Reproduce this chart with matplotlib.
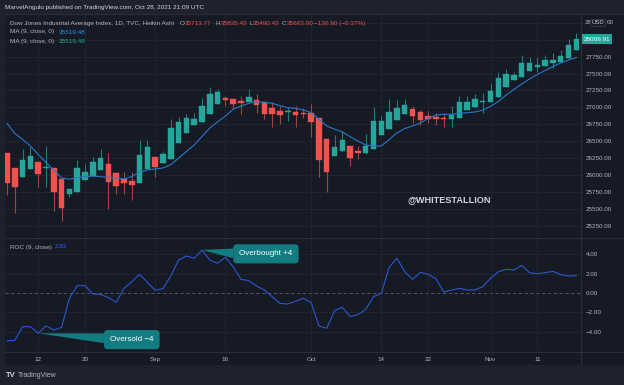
import matplotlib
matplotlib.use('agg')
import matplotlib.pyplot as plt
from matplotlib.patches import Rectangle
import matplotlib.transforms as mtransforms
import pandas as pd

plt.rcParams['font.family'] = ['Liberation Sans', 'DejaVu Sans']

# trading days Aug 6 - Nov 18 2019 (Labor Day closed)
dates = pd.bdate_range('2019-08-06', '2019-11-18').drop(pd.Timestamp('2019-09-02'))

tick_dates = ['2019-08-12', '2019-08-20', '2019-09-03', '2019-09-16', '2019-10-01',
              '2019-10-14', '2019-10-22', '2019-11-01', '2019-11-11']
tick_labels = ['12', '20', 'Sep', '16', 'Oct', '14', '22', 'Nov', '11']

# heikin ashi candles
ha_open = [26320, 26107, 25965, 26092, 26187, 26103, 26107, 25935, 25713, 25747,
           25925, 25984, 26077, 26166, 26033, 25940, 25910, 25876, 26083, 26261,
           26181, 26240, 26468, 26625, 26739, 26783, 26902, 27045, 27139, 27124,
           27094, 27079, 27109, 27075, 26995, 26946, 26927, 26931, 26921, 26912,
           26838, 26536, 26285, 26359, 26433, 26350, 26329, 26379, 26587, 26684,
           26813, 26897, 26971, 26927, 26868, 26857, 26843, 26828, 26847, 26961,
           27010, 27075, 27084, 27158, 27306, 27401, 27445, 27538, 27602, 27617,
           27652, 27667, 27726, 27849]
ha_high = [26320, 26107, 26384, 26409, 26187, 26428, 26107, 25935, 25792, 26221,
           26162, 26265, 26384, 26320, 26033, 26048, 26039, 26517, 26513, 26261,
           26359, 26832, 26862, 26902, 26912, 27143, 27306, 27276, 27168, 27124,
           27168, 27272, 27198, 27075, 27084, 27020, 27010, 27020, 26995, 27054,
           26838, 26536, 26587, 26655, 26433, 26428, 26601, 27010, 26872, 27124,
           27109, 27119, 27020, 26961, 26951, 26912, 26921, 27020, 27168, 27168,
           27198, 27217, 27356, 27528, 27563, 27528, 27775, 27741, 27750, 27775,
           27809, 27849, 28007, 28096]
ha_low = [25703, 25432, 25965, 26092, 25817, 25826, 25471, 25323, 25669, 25747,
          25925, 25984, 26077, 25496, 25713, 25713, 25629, 25876, 26083, 25974,
          26181, 26240, 26468, 26625, 26739, 26783, 26902, 27045, 27025, 26976,
          26897, 27079, 26912, 26828, 26705, 26749, 26798, 26714, 26847, 26557,
          25965, 25743, 26285, 26359, 26132, 26240, 26305, 26379, 26587, 26684,
          26813, 26897, 26764, 26739, 26764, 26739, 26714, 26714, 26847, 26961,
          26986, 26921, 27084, 27158, 27306, 27401, 27445, 27538, 27519, 27617,
          27587, 27667, 27726, 27849]
ha_close = [25885, 25826, 26221, 26280, 26014, 26117, 25747, 25506, 25792, 26098,
            26039, 26187, 26251, 25895, 25836, 25885, 25851, 26295, 26418, 26117,
            26310, 26690, 26783, 26843, 26832, 27020, 27198, 27223, 27105, 27050,
            27060, 27153, 27039, 26902, 26902, 26891, 26931, 26883, 26906, 26779,
            26221, 26039, 26418, 26513, 26246, 26329, 26428, 26798, 26794, 26936,
            26995, 27035, 26877, 26813, 26832, 26823, 26828, 26887, 27084, 27084,
            27124, 27090, 27242, 27439, 27494, 27483, 27661, 27652, 27627, 27701,
            27701, 27760, 27923, 28009.91]

ma9 = [26764, 26613, 26525, 26428, 26303, 26184, 26073, 25955, 25936, 25959,
       25974, 25984, 25974, 25965, 25955, 25940, 25977, 26041, 26073, 26088,
       26103, 26152, 26248, 26347, 26443, 26569, 26695, 26784, 26872, 26972,
       27020, 27059, 27084, 27075, 27060, 27025, 26995, 26986, 26961, 26921,
       26824, 26724, 26676, 26636, 26566, 26502, 26443, 26428, 26428, 26525,
       26621, 26687, 26724, 26769, 26835, 26887, 26898, 26898, 26911, 26921,
       26932, 26958, 27016, 27087, 27183, 27265, 27346, 27420, 27487, 27546,
       27605, 27657, 27701, 27738]

roc = [-4.96, -4.9, -3.48, -3.48, -4.17, -3.41, -3.83, -3.55, -0.55, 0.76,
       0.76, -0.1, -0.14, -0.48, -0.97, 0.48, 1.17, 1.93, 1.1, 0.28,
       0.45, 1.76, 3.41, 3.83, 3.59, 4.45, 3.41, 3.07, 3.69, 2.72,
       1.41, 1.28, 0.72, 0.31, -0.38, -1.07, -1.14, -0.86, -0.55, -1.0,
       -3.41, -3.65, -1.83, -1.48, -2.45, -2.24, -1.69, -0.38, -0.03, 2.66,
       3.59, 2.2, 1.41, 2.14, 1.93, 1.48, 0.1, 0.31, 0.48, 0.31,
       0.31, 0.66, 1.52, 2.2, 2.45, 2.38, 2.86, 2.1, 2.0, 2.1,
       2.24, 1.9, 1.76, 1.8]

price_ticks = [25250, 25500, 25750, 26000, 26250, 26500, 26750, 27000,
               27250, 27500, 27750, 28000, 28250]
roc_ticks = [-4, -2, 2, 4]

W, H = 624, 385
frame_bg = '#1e222d'
chart_bg = '#161a25'
grid_c = '#222632'
line_c = '#2a2e39'
text_c = '#b2b5be'
up_c = '#26a69a'
down_c = '#ef5350'
bubble_c = '#137c80'
fs_leg = 4.6


def rect(x0, y0, x1, y1):
    return [x0 / W, 1 - y1 / H, (x1 - x0) / W, (y1 - y0) / H]


def fx(x):
    return x / W


def fy(y):
    return 1 - y / H


fig = plt.figure(figsize=(W / 100, H / 100), dpi=100)
fig.patch.set_facecolor(frame_bg)
fig.add_artist(Rectangle((fx(5), fy(365)), fx(619), 351 / H, transform=fig.transFigure,
                         facecolor=chart_bg, edgecolor='none', zorder=0))

idx = list(range(len(dates)))
tick_idx = [dates.get_loc(pd.Timestamp(d)) for d in tick_dates]

# ---- price pane
ax = fig.add_axes(rect(5, 14, 581, 237))
ax.set_facecolor(chart_bg)
for s in ax.spines.values():
    s.set_visible(False)
ax.set_xlim(-0.26, 73.6)
ax.set_ylim(25081, 28382)
ax.yaxis.tick_right()
ax.set_yticks(price_ticks)
# 28000 sits under the last-price tag, 28250 under the currency button
ax.set_yticklabels(['' if v >= 28000 else f'{v:.2f}' for v in price_ticks])
ax.tick_params(axis='y', length=0, pad=3.6, labelsize=4.5, labelcolor=text_c)
ax.set_xticks(tick_idx)
ax.tick_params(axis='x', length=0, labelbottom=False)
ax.grid(True, color=grid_c, lw=0.6)
ax.set_axisbelow(True)

colors = [up_c if c >= o else down_c for o, c in zip(ha_open, ha_close)]
wick_colors = ['#1f7f77' if c >= o else '#a8403f' for o, c in zip(ha_open, ha_close)]
ax.vlines(idx, ha_low, ha_high, colors=wick_colors, lw=0.8, zorder=2)
bottoms = [min(o, c) for o, c in zip(ha_open, ha_close)]
heights = [max(abs(c - o), 12) for o, c in zip(ha_open, ha_close)]
ax.bar(idx, heights, bottom=bottoms, width=0.7, color=colors, edgecolor=colors,
       lw=0.3, zorder=3)
ax.plot(idx, ma9, color='#2878c8', lw=0.8, zorder=4)

# last price label
tr = mtransforms.blended_transform_factory(ax.transAxes, ax.transData)
ax.text(1.004, ha_close[-1], f'{ha_close[-1]:.2f}', transform=tr, ha='left', va='center',
        fontsize=4.6, color='white', clip_on=False,
        bbox=dict(boxstyle='square,pad=0.35', fc=up_c, ec='none'))

# ---- ROC pane
ax2 = fig.add_axes(rect(5, 238, 581, 351))
ax2.set_facecolor(chart_bg)
for s in ax2.spines.values():
    s.set_visible(False)
ax2.set_xlim(-0.26, 73.6)
ax2.set_ylim(-6.0, 5.69)
ax2.yaxis.tick_right()
ax2.set_yticks(roc_ticks + [0])
ax2.set_yticklabels([f'{v:.2f}'.replace('-', '\u2212') for v in roc_ticks + [0]])
ax2.tick_params(axis='y', length=0, pad=3.6, labelsize=4.5, labelcolor=text_c)
ax2.set_xticks(tick_idx)
ax2.set_xticklabels(tick_labels)
ax2.tick_params(axis='x', length=0, pad=4.5, labelsize=4.5, labelcolor=text_c)
ax2.grid(True, axis='x', color=grid_c, lw=0.6)
for v in roc_ticks:
    ax2.axhline(v, color=grid_c, lw=0.6, zorder=0)
ax2.axhline(0, color='#5d606b', lw=0.6, ls=(0, (4, 3)), zorder=1)
ax2.plot(idx, roc, color='#2b57d0', lw=0.8, zorder=3)

bubble = dict(boxstyle='round,pad=0.75,rounding_size=0.45', fc=bubble_c, ec='none')
ax2.annotate('Overbought +4', xy=(25, roc[25]), xytext=(33.2, 4.05), fontsize=5.8, color='white',
             ha='center', va='center', zorder=5, bbox=bubble,
             arrowprops=dict(arrowstyle='wedge,tail_width=1.2', fc=bubble_c, ec='none',
                             relpos=(0.05, 0.45), shrinkA=0, shrinkB=0))
ax2.annotate('Oversold \u22124', xy=(4, roc[4]), xytext=(16, -4.82), fontsize=5.8, color='white',
             ha='center', va='center', zorder=5, bbox=bubble,
             arrowprops=dict(arrowstyle='wedge,tail_width=1.2', fc=bubble_c, ec='none',
                             relpos=(0.05, 0.6), shrinkA=0, shrinkB=0))

# ---- frame lines
fig.add_artist(plt.Line2D([fx(5), 1], [fy(14), fy(14)], color=line_c, lw=0.8))
fig.add_artist(plt.Line2D([fx(5), 1], [fy(237.5), fy(237.5)], color=line_c, lw=0.8))
fig.add_artist(plt.Line2D([fx(5), 1], [fy(351.5), fy(351.5)], color=line_c, lw=0.8))
fig.add_artist(plt.Line2D([fx(581), fx(581)], [fy(14), fy(365)], color=line_c, lw=0.8))

# ---- texts
fig.text(fx(5), fy(7), 'MarvelAngulu published on TradingView.com, Oct 28, 2021 21:09 UTC',
         fontsize=4.6, color='#d1d4dc', va='center')
fig.text(fx(10), fy(23.3), 'Dow Jones Industrial Average Index, 1D, TVC, Heikin Ashi',
         fontsize=fs_leg, color=text_c, va='center')
for lx, lab, vx, val in [(180, 'O', 184.5, '35713.77'), (215, 'H', 220.5, '35835.43'),
                         (249, 'L', 253, '35490.43'), (282, 'C', 286.5, '35663.00')]:
    fig.text(fx(lx), fy(23.3), lab, fontsize=fs_leg, color=text_c, va='center')
    fig.text(fx(vx), fy(23.3), val, fontsize=fs_leg, color=down_c, va='center')
fig.text(fx(314), fy(23.3), '\u2212130.90 (\u22120.37%)', fontsize=fs_leg, color=down_c, va='center')
fig.text(fx(10), fy(32), 'MA (9, close, 0)', fontsize=fs_leg, color=text_c, va='center')
fig.text(fx(59), fy(32), '35519.48', fontsize=fs_leg, color='#2196f3', va='center')
fig.text(fx(10), fy(41.3), 'MA (9, close, 0)', fontsize=fs_leg, color=text_c, va='center')
fig.text(fx(59), fy(41.3), '35519.48', fontsize=fs_leg, color='#22ab94', va='center')
fig.text(fx(10), fy(247), 'ROC (9, close)', fontsize=fs_leg, color=text_c, va='center')
fig.text(fx(55), fy(247), '2.83', fontsize=fs_leg, color='#2962ff', va='center')

# top price label half hidden by the currency button
fig.text(fx(585), fy(23), '28', fontsize=4.5, color=text_c, va='center')
fig.text(fx(598), fy(23), 'USD', fontsize=4.2, color='#d1d4dc', ha='center', va='center',
         bbox=dict(boxstyle='round,pad=0.18,rounding_size=0.3', fc=chart_bg, ec='#434651', lw=0.5))
fig.text(fx(606.5), fy(23), '00', fontsize=4.5, color=text_c, va='center')

fig.text(fx(449.5), fy(199.5), '@WHITESTALLION', fontsize=6.6, fontweight='bold',
         color='#d1d4dc', ha='center', va='center')

fig.text(fx(6), fy(375.5), 'TV', fontsize=5.5, fontweight='bold', color='#d1d4dc', va='center')
fig.text(fx(18), fy(375.5), 'TradingView', fontsize=5, color='#b2b5be', va='center')

fig.savefig('out.png', dpi=100, facecolor=fig.get_facecolor())
